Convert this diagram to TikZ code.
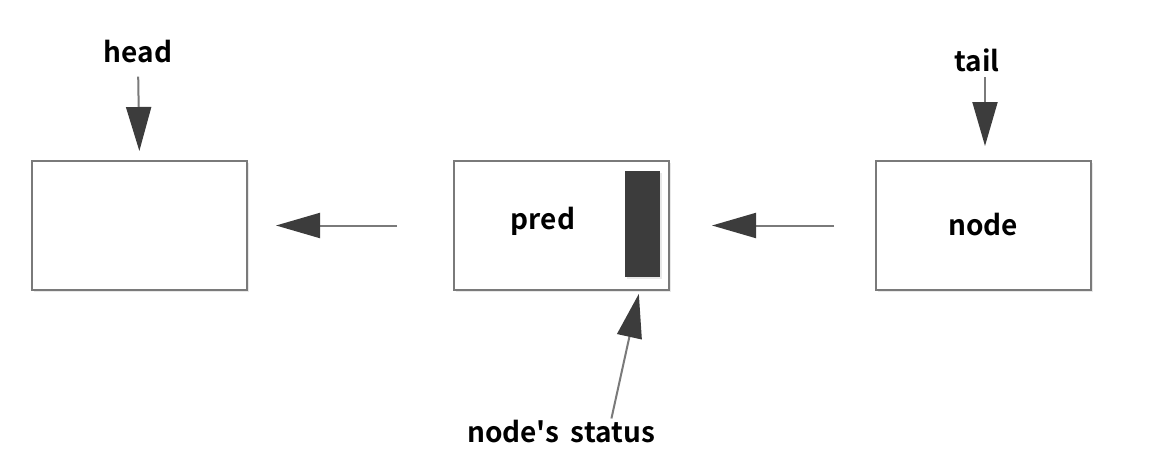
\documentclass[tikz,border=0pt]{standalone}
\usepackage{fontspec}
\newfontfamily\labelfont{Noto Sans CJK SC}[BoldFont={Noto Sans CJK SC Bold}]
\usepackage{tikz}
\usetikzlibrary{arrows.meta,shadows}
\definecolor{boxgray}{HTML}{7A7A7A}
\definecolor{tipgray}{HTML}{3C3C3C}

\begin{document}
\begin{tikzpicture}[x=1pt,y=-1pt,
	tag/.style={font=\labelfont\bfseries\fontsize{28}{32}\selectfont,inner sep=0pt},
	list node/.style={rectangle,draw=boxgray,line width=2pt,fill=white,minimum width=215pt,minimum height=129pt,
		drop shadow={opacity=0.18,shadow xshift=2pt,shadow yshift=-2pt}},
	ptr/.style={draw=boxgray,line width=2pt,-{Triangle[length=44pt,width=25pt,color=tipgray]}}]
		\useasboundingbox (0,0) rectangle (1152,463);
		% Nodes
		  \node (head) at (138,52) [tag] {head};
		  \node (tail) at (977,60) [tag] {tail};
		  
		  \node (H) at (139.5,225.5) [list node] {};
		  \node (P) at (561.5,225.5) [list node] {};
		  \node (N) at (983.5,225.5) [list node] {};
		  
		  \node (pred) at (543,221) [tag] {pred};
		  \node (ws) at (642.5,224) [rectangle,fill=tipgray,minimum width=35pt,minimum height=106pt,inner sep=0pt,
		  	drop shadow={opacity=0.18,shadow xshift=2pt,shadow yshift=-2pt}] {};
		  \node (nd) at (983,225) [tag] {node};
		  
		  \node (status) at (561,432) [tag] {node's\hspace{0.42em}status};
		
		% Edges
		  \draw[ptr,shorten <=13pt,shorten >=9pt] (head.south) -- (H.north);
		  \draw[ptr,shorten <=5pt,shorten >=14pt] ([xshift=8pt]tail.south) -- ([xshift=1.5pt]N.north);
		  \draw[ptr,shorten <=56pt,shorten >=28pt] (P.west) -- (H.east);
		  \draw[ptr,shorten <=41pt,shorten >=42pt] (N.west) -- (P.east);
		  \draw[ptr,shorten <=2pt,shorten >=17pt] ([xshift=50pt]status.north) -- (ws.south);
		  
		\end{tikzpicture}
\end{document}
